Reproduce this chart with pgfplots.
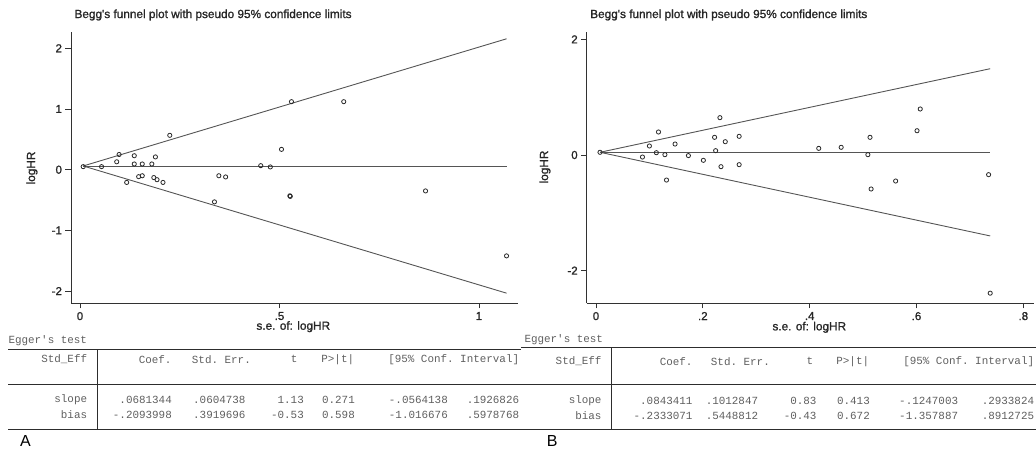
\documentclass[border=0pt]{standalone}
\usepackage{pgfplots}
\pgfplotsset{compat=1.18}
\usepackage{fontspec}
\setmainfont{Liberation Sans}
\setmonofont{Liberation Mono}
\newfontfamily\labfont[FakeBold=1.2]{Liberation Sans}
\definecolor{axcol}{RGB}{50,50,50}
\definecolor{linecol}{RGB}{85,85,85}
\definecolor{markcol}{RGB}{40,40,40}
\definecolor{tabtxt}{RGB}{95,95,95}
\definecolor{rulecol}{RGB}{45,45,45}
\pgfplotsset{
  funnel/.style={
    scale only axis, anchor=south west,
    axis x line=bottom, axis y line=left,
    axis line style={-, draw=axcol, line width=0.9pt},
    tick align=outside, major tick length=5.5pt,
    tick style={draw=axcol, line width=0.9pt},
    ticklabel style={font=\labfont\fontsize{11.5}{12}\selectfont, text=black!85},
    clip=false,
  },
  pts/.style={only marks, mark=o, mark size=2.1pt, mark options={draw=markcol, line width=0.8pt}},
  fl/.style={linecol, line width=0.9pt},
}
\newcommand{\tabfont}{\fontsize{10.9}{12}\ttfamily\color{tabtxt}}
\newcommand{\lbl}{\labfont\fontsize{11.8}{12}\selectfont}
\begin{document}
\begin{tikzpicture}[x=1pt,y=1pt]
\useasboundingbox (0,0) rectangle (1036,449);
% ---------------- Panel A ----------------
\begin{axis}[funnel, at={(71pt,146pt)}, width=446.7pt, height=271.3pt,
  xmin=-0.02256, xmax=1.097, ymin=-2.196, ymax=2.273,
  xtick={0,0.5,1}, xticklabels={0,.5,1},
  ytick={-2,-1,0,1,2}, yticklabels={-2,-1,0,1,2}]
\addplot[fl] coordinates {(0.008,0.061) (1.069,2.156)};
\addplot[fl] coordinates {(0.008,0.061) (1.069,0.061)};
\addplot[fl] coordinates {(0.008,0.061) (1.069,-2.034)};
\addplot[pts] coordinates {
(0.008,0.05) (0.054,0.05) (0.092,0.13) (0.098,0.25) (0.117,-0.21)
(0.136,0.23) (0.136,0.094) (0.147,-0.115) (0.156,-0.10) (0.156,0.094)
(0.180,0.094) (0.189,0.21) (0.185,-0.13) (0.193,-0.165) (0.208,-0.21)
(0.225,0.566) (0.337,-0.53) (0.348,-0.10) (0.365,-0.12) (0.453,0.066)
(0.477,0.045) (0.505,0.335) (0.526,-0.43) (0.527,-0.44) (0.53,1.12)
(0.661,1.12) (0.866,-0.35) (1.069,-1.42)};
\end{axis}
\node[anchor=west, font=\lbl, text=black!85] at (71,434) {Begg's funnel plot with pseudo 95\% confidence limits};
\node[rotate=90, font=\lbl, text=black!85] at (32,281) {logHR};
\node[font=\lbl, text=black!85] at (293.3,122.3) {s.e. of: logHR};
% table A
\node[anchor=west, font=\tabfont] at (5,108.3) {Egger's test};
\draw[rulecol, line width=0.8pt] (8,99.7) -- (521,99.7);
\draw[rulecol, line width=0.8pt] (8,65) -- (521,65);
\draw[rulecol, line width=0.8pt] (8,19.7) -- (521,19.7);
\draw[rulecol, line width=0.8pt] (97.7,99.7) -- (97.7,19.7);
\begin{scope}[every node/.style={anchor=east, font=\tabfont, inner sep=0pt}]
\node at (87.3,89.7) {Std\_Eff};
\node at (171.7,89.7) {Coef.};
\node at (251,89.7) {Std. Err.};
\node at (297.7,89.7) {t};
\node at (354.3,89.7) {P>|t|};
\node at (519.3,89.7) {[95\% Conf. Interval]};
\node at (87.3,49) {slope};
\node at (172,49) {.0681344};
\node at (245.7,49) {.0604738};
\node at (304,49) {1.13};
\node at (355,49) {0.271};
\node at (448,49) {-.0564138};
\node at (519.3,49) {.1926826};
\node at (87.3,34) {bias};
\node at (172,34) {-.2093998};
\node at (245.7,34) {.3919696};
\node at (304,34) {-0.53};
\node at (355,34) {0.598};
\node at (448,34) {-1.016676};
\node at (519.3,34) {.5978768};
\end{scope}
\node[anchor=base west, inner sep=0pt, font=\fontsize{16}{16}\selectfont] at (20,2) {A};
% ---------------- Panel B ----------------
\begin{axis}[funnel, at={(586.7pt,146pt)}, width=447.3pt, height=271pt,
  xmin=-0.0174, xmax=0.820, ymin=-2.56, ymax=2.128,
  xtick={0,0.2,0.4,0.6,0.8}, xticklabels={0,.2,.4,.6,.8},
  ytick={-2,0,2}, yticklabels={-2,0,2}]
\addplot[fl] coordinates {(0.0075,0.047) (0.738,1.493)};
\addplot[fl] coordinates {(0.0075,0.047) (0.738,0.047)};
\addplot[fl] coordinates {(0.0075,0.047) (0.738,-1.40)};
\addplot[pts] coordinates {
(0.0075,0.047) (0.087,-0.035) (0.10,0.156) (0.113,0.04) (0.117,0.398)
(0.129,0.006) (0.132,-0.433) (0.148,0.19) (0.173,-0.01) (0.201,-0.092)
(0.222,0.306) (0.224,0.075) (0.232,0.646) (0.234,-0.202) (0.242,0.23)
(0.268,0.323) (0.268,-0.167) (0.417,0.115) (0.459,0.133) (0.509,0.006)
(0.513,0.306) (0.515,-0.588) (0.561,-0.45) (0.601,0.42) (0.607,0.796)
(0.735,-0.34) (0.738,-2.39)};
\end{axis}
\node[anchor=west, font=\lbl, text=black!85] at (586.7,434) {Begg's funnel plot with pseudo 95\% confidence limits};
\node[rotate=90, font=\lbl, text=black!85] at (545,282) {logHR};
\node[font=\lbl, text=black!85] at (809.3,121.7) {s.e. of: logHR};
% table B
\node[anchor=west, font=\tabfont] at (521,109) {Egger's test};
\draw[rulecol, line width=0.8pt] (521,101.3) -- (1036,101.3);
\draw[rulecol, line width=0.8pt] (521,64.7) -- (1036,64.7);
\draw[rulecol, line width=0.8pt] (521,19.7) -- (1036,19.7);
\draw[rulecol, line width=0.8pt] (611,101.3) -- (611,19.7);
\begin{scope}[every node/.style={anchor=east, font=\tabfont, inner sep=0pt}]
\node at (601.7,87.7) {Std\_Eff};
\node at (692.7,87.7) {Coef.};
\node at (770,87.7) {Std. Err.};
\node at (813.3,87.7) {t};
\node at (869.3,87.7) {P>|t|};
\node at (1034.3,87.7) {[95\% Conf. Interval]};
\node at (601.7,48) {slope};
\node at (692.7,48) {.0843411};
\node at (758.3,48) {.1012847};
\node at (816.7,48) {0.83};
\node at (870,48) {0.413};
\node at (958.3,48) {-.1247003};
\node at (1034.3,48) {.2933824};
\node at (601.7,33) {bias};
\node at (692.7,33) {-.2333071};
\node at (758.3,33) {.5448812};
\node at (816.7,33) {-0.43};
\node at (870,33) {0.672};
\node at (958.3,33) {-1.357887};
\node at (1034.3,33) {.8912725};
\end{scope}
\node[anchor=base west, inner sep=0pt, font=\fontsize{16}{16}\selectfont] at (546.7,2) {B};
\end{tikzpicture}
\end{document}
